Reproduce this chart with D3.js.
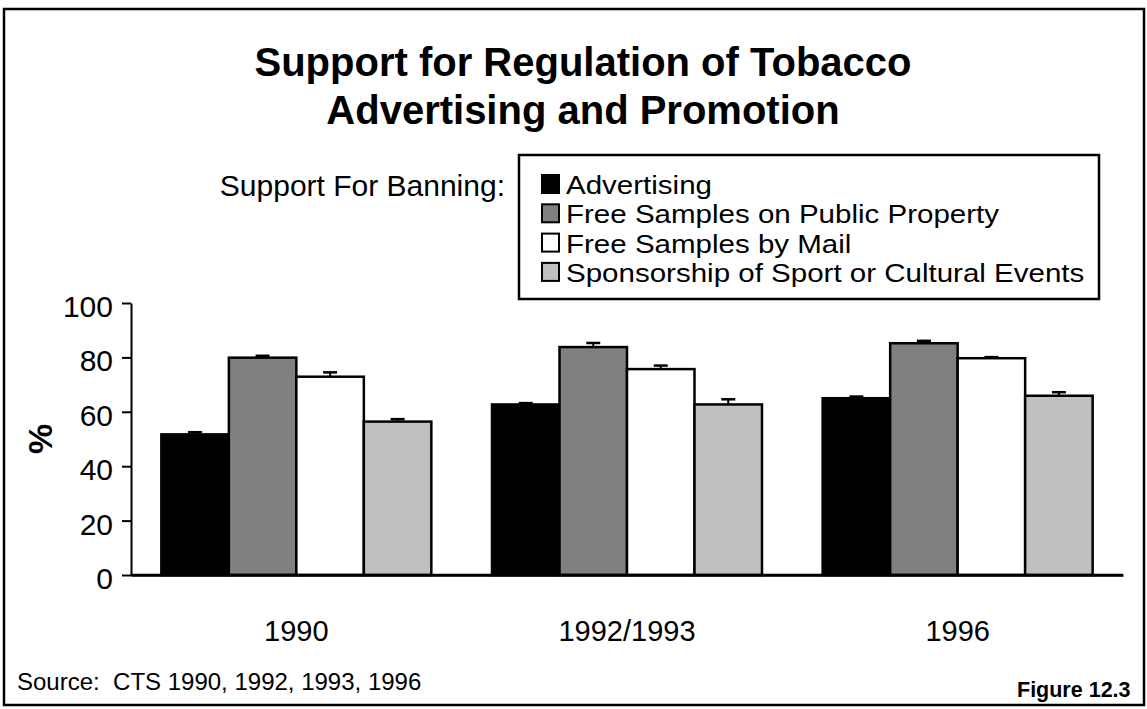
<!DOCTYPE html>
<html>
<head>
<meta charset="utf-8">
<script src="https://cdn.jsdelivr.net/npm/d3@7"></script>
<style>
  html, body { margin: 0; padding: 0; background: #fff; }
  svg { display: block; }
  text { font-family: "Liberation Sans", Arial, sans-serif; fill: #000; }
</style>
</head>
<body>
<svg id="chart" width="1147" height="709"></svg>
<script>
// ---- data ----
const categories = ["1990", "1992/1993", "1996"];
const seriesNames = [
  "Advertising",
  "Free Samples on Public Property",
  "Free Samples by Mail",
  "Sponsorship of Sport or Cultural Events"
];
const advertising       = [51.7, 62.7, 65.0];
const freePublic        = [79.9, 83.8, 85.2];
const freeMail          = [72.9, 75.7, 79.7];
const sponsorship       = [56.4, 62.7, 65.9];
// upper end of error bars
const advertisingErr    = [52.5, 63.2, 65.6];
const freePublicErr     = [80.6, 85.3, 86.1];
const freeMailErr       = [74.5, 77.0, 80.1];
const sponsorshipErr    = [57.3, 64.6, 67.2];
const yTicks = [0, 20, 40, 60, 80, 100];
const seriesColors = ["#000000", "#808080", "#ffffff", "#c0c0c0"];

const seriesValues = [advertising, freePublic, freeMail, sponsorship];
const seriesErrs = [advertisingErr, freePublicErr, freeMailErr, sponsorshipErr];

const svg = d3.select("#chart");

// outer frame
svg.append("rect")
  .attr("x", 4).attr("y", 9).attr("width", 1140).attr("height", 696)
  .attr("fill", "none").attr("stroke", "#000").attr("stroke-width", 2.5);

// title
const title = svg.append("text")
  .attr("text-anchor", "middle")
  .attr("font-weight", "bold")
  .attr("font-size", 40);
title.append("tspan").attr("x", 583).attr("y", 76).text("Support for Regulation of Tobacco");
title.append("tspan").attr("x", 583).attr("y", 124).text("Advertising and Promotion");

// scales
const x0 = d3.scaleBand().domain(categories).range([131, 1123])
  .paddingInner(0.1835).paddingOuter(0.0918);
const x1 = d3.scaleBand().domain(d3.range(seriesNames.length)).range([0, x0.bandwidth()]).padding(0);
const y = d3.scaleLinear().domain([0, 100]).range([575, 303]);

// y axis
const yAxis = d3.axisLeft(y).tickValues(yTicks).tickSize(9).tickSizeOuter(0).tickPadding(9);
const gy = svg.append("g").attr("transform", "translate(131,0)").call(yAxis);
gy.select(".domain").attr("stroke", "#000").attr("stroke-width", 2);
gy.selectAll(".tick line").attr("stroke", "#000").attr("stroke-width", 2);
gy.selectAll(".tick text")
  .attr("font-family", "'Liberation Sans', Arial, sans-serif")
  .attr("font-size", 30).attr("fill", "#000").attr("dy", "0.45em");

// x axis baseline
const xAxis = d3.axisBottom(x0).tickSize(0).tickSizeOuter(0).tickPadding(0);
const gx = svg.append("g").attr("transform", "translate(0,575)").call(xAxis);
gx.select(".domain").attr("stroke", "#000").attr("stroke-width", 2.5);
gx.selectAll(".tick text")
  .attr("font-family", "'Liberation Sans', Arial, sans-serif")
  .attr("font-size", 29).attr("fill", "#000").attr("y", 66).attr("dy", 0);

// bars
const groups = svg.append("g").selectAll("g").data(categories).join("g")
  .attr("transform", d => `translate(${x0(d)},0)`);

groups.each(function(cat, ci) {
  const g = d3.select(this);
  seriesValues.forEach((vals, si) => {
    g.append("rect")
      .attr("x", x1(si)).attr("y", y(vals[ci]))
      .attr("width", x1.bandwidth()).attr("height", y(0) - y(vals[ci]))
      .attr("fill", seriesColors[si]).attr("stroke", "#000").attr("stroke-width", 2.5);
  });
  seriesErrs.forEach((errs, si) => {
    const cx = x1(si) + x1.bandwidth() / 2;
    g.append("line")
      .attr("x1", cx).attr("x2", cx)
      .attr("y1", y(seriesValues[si][ci])).attr("y2", y(errs[ci]))
      .attr("stroke", "#000").attr("stroke-width", 2);
    g.append("line")
      .attr("x1", cx - 7).attr("x2", cx + 7)
      .attr("y1", y(errs[ci])).attr("y2", y(errs[ci]))
      .attr("stroke", "#000").attr("stroke-width", 2.5);
  });
});

// redraw axis baseline on top
svg.append("line").attr("x1", 131).attr("x2", 1123).attr("y1", 575).attr("y2", 575)
  .attr("stroke", "#000").attr("stroke-width", 2.5);

// y label
svg.append("text")
  .attr("transform", "translate(52,439) rotate(-90)")
  .attr("text-anchor", "middle").attr("font-weight", "bold").attr("font-size", 34)
  .text("%");

// legend label
svg.append("text")
  .attr("x", 505).attr("y", 196).attr("text-anchor", "end").attr("font-size", 30)
  .text("Support For Banning:");

// legend
svg.append("rect")
  .attr("x", 519).attr("y", 155).attr("width", 580).attr("height", 144)
  .attr("fill", "#fff").attr("stroke", "#000").attr("stroke-width", 2.5);
const legendRows = svg.append("g").selectAll("g").data(seriesNames).join("g")
  .attr("transform", (d, i) => `translate(0,${194 + i * 29.3})`);
legendRows.append("rect")
  .attr("x", 542).attr("y", -19).attr("width", 17).attr("height", 18)
  .attr("fill", (d, i) => seriesColors[i]).attr("stroke", "#000").attr("stroke-width", 2);
legendRows.append("text")
  .attr("x", 566).attr("y", 0).attr("font-size", 26)
  .text(d => d)
  .each(function() {
    const w = this.getComputedTextLength();
    d3.select(this).attr("textLength", w * 1.135).attr("lengthAdjust", "spacingAndGlyphs");
  });

// source & figure
svg.append("text").attr("x", 17).attr("y", 690).attr("font-size", 24)
  .style("white-space", "pre")
  .text("Source:  CTS 1990, 1992, 1993, 1996");
svg.append("text").attr("x", 1017).attr("y", 697).attr("font-size", 21.5).attr("font-weight", "bold")
  .text("Figure 12.3");
</script>
</body>
</html>
